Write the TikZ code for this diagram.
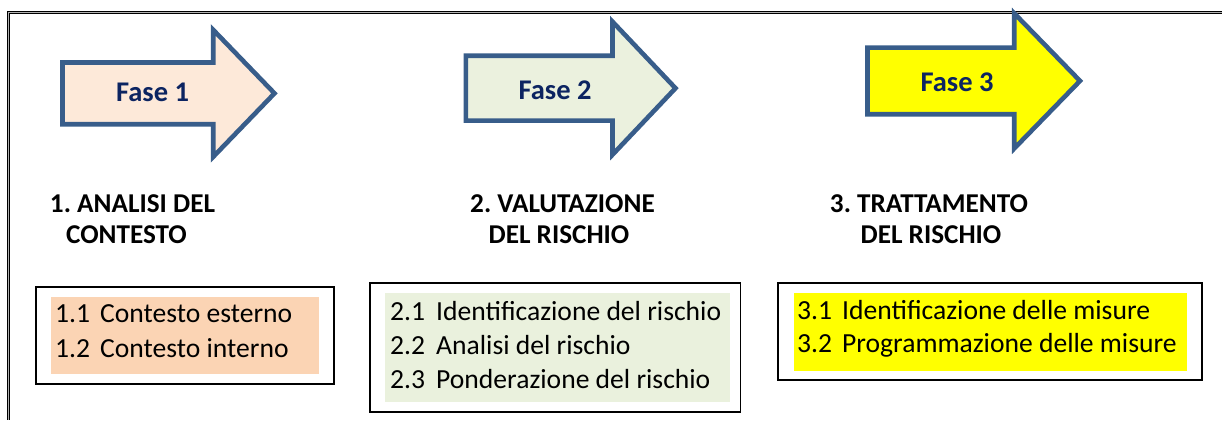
\documentclass[tikz,border=0pt]{standalone}
\usepackage{fontspec}
\setmainfont{Carlito}
\frenchspacing
\definecolor{arrline}{HTML}{385D8A}
\definecolor{fillA}{HTML}{FDE9D9}
\definecolor{fillB}{HTML}{EBF1DE}
\definecolor{fillC}{HTML}{FFFF00}
\definecolor{boxA}{HTML}{FBD4B4}
\definecolor{boxB}{HTML}{EAF1DD}
\definecolor{boxC}{HTML}{FFFF00}
\definecolor{fasecol}{HTML}{0C2461}
\newcommand\phasearrow[7]{%
  \draw[arrowstyle, fill=#7] (#1,#2-#3) -- (#4,#2-#3) -- (#4,#2-#5) -- (#6,#2)
    -- (#4,#2+#5) -- (#4,#2+#3) -- (#1,#2+#3) -- cycle;}
\begin{document}
\begin{tikzpicture}[x=1pt,y=-1pt,
  arrowstyle/.style={draw=arrline, line width=4.6pt, line join=miter},
  fasetext/.style={anchor=base, inner sep=0pt, text=fasecol, font=\fontsize{28.5}{31}\selectfont\bfseries},
  titletext/.style={anchor=base, inner sep=0pt, font=\fontsize{27.2}{31}\selectfont\bfseries},
  itemtext/.style={anchor=base west, inner sep=0pt, font=\fontsize{27.6}{34}\selectfont},
  outerbox/.style={draw=black, line width=1.7pt},
  frameline/.style={draw=black, line width=1pt, double=gray!60, double distance=1pt}
]
\useasboundingbox (0,0) rectangle (1222,420);
% frame
\draw[frameline] (1222,13) -- (8.5,13) -- (8.5,420);
% arrows
\phasearrow{62.5}{93.35}{30.85}{213.2}{63.5}{274.5}{fillA}
\phasearrow{465.8}{88.2}{32.4}{612.5}{66.5}{675.5}{fillB}
\phasearrow{867.5}{80.9}{33.3}{1014.2}{67.6}{1080}{fillC}
\node[fasetext] (f1) at (152.5,101.7) {Fase 1};
\node[fasetext] (f2) at (555,99.3) {Fase 2};
\node[fasetext] (f3) at (957,91.7) {Fase 3};
% titles
\node[titletext] (t1a) at (132.5,212) {1. ANALISI DEL};
\node[titletext] (t1b) at (126.5,243) {CONTESTO};
\node[titletext] (t2a) at (562.5,212) {2. VALUTAZIONE};
\node[titletext] (t2b) at (559,243) {DEL RISCHIO};
\node[titletext] (t3a) at (929,212) {3. TRATTAMENTO};
\node[titletext] (t3b) at (931,243) {DEL RISCHIO};
% boxes
\draw[outerbox] (35.7,286.7) rectangle (334,384.3);
\fill[boxA] (51,297) rectangle (319,374);
\draw[outerbox] (370,282.7) rectangle (740.5,411.7);
\fill[boxB] (385,292.7) rectangle (730,401.7);
\draw[outerbox] (778.3,283.3) rectangle (1202,380);
\fill[boxC] (794,293.3) rectangle (1187.3,370.7);
% items
\node[itemtext] (i11) at (55,322.7) {\makebox[45pt][l]{1.1}Contesto esterno};
\node[itemtext] (i12) at (55,357.3) {\makebox[45pt][l]{1.2}Contesto interno};
\node[itemtext] (i21) at (390,320) {\makebox[46pt][l]{2.1}Identificazione del rischio};
\node[itemtext] (i22) at (390,354) {\makebox[46pt][l]{2.2}Analisi del rischio};
\node[itemtext] (i23) at (390,388) {\makebox[46pt][l]{2.3}Ponderazione del rischio};
\node[itemtext] (i31) at (797,319) {\makebox[45pt][l]{3.1}Identificazione delle misure};
\node[itemtext] (i32) at (797,352.5) {\makebox[45pt][l]{3.2}Programmazione delle misure};
\end{tikzpicture}
\end{document}
